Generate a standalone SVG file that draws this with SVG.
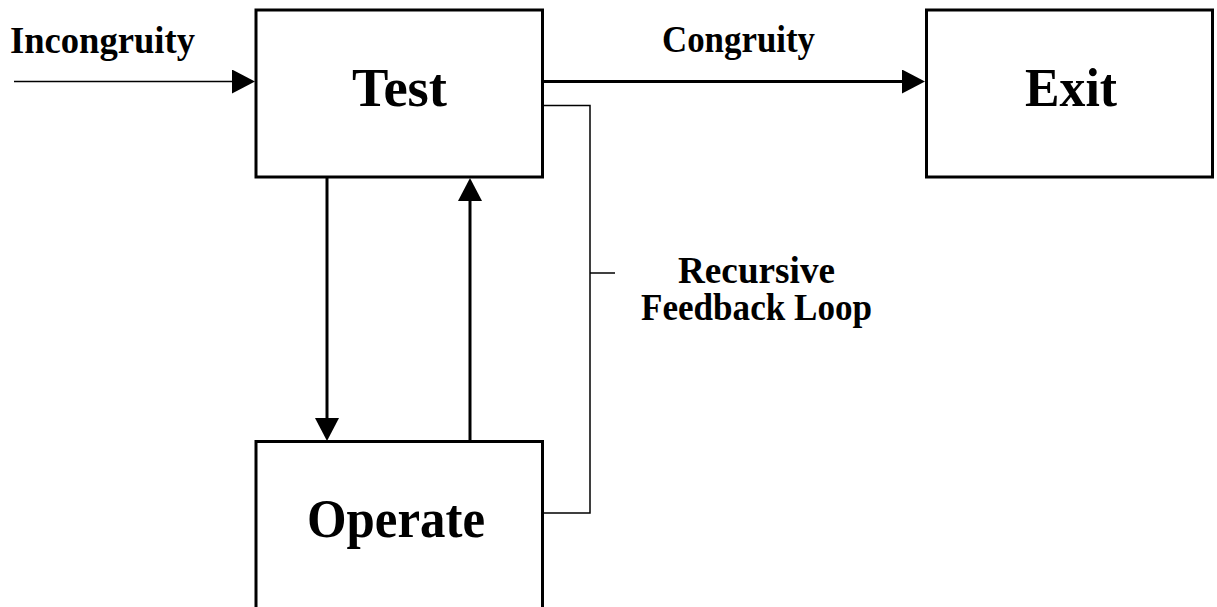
<svg xmlns="http://www.w3.org/2000/svg" width="1217" height="607" viewBox="0 0 1217 607">
  <defs>
    <!-- solid triangular arrowhead; tip sits 20px beyond the line end -->
    <marker id="head" markerUnits="userSpaceOnUse" markerWidth="23" markerHeight="24" refX="3" refY="12" orient="auto">
      <path d="M0,0 L23,12 L0,24 Z" fill="#000"/>
    </marker>
    <style>
      .box { fill: #fff; stroke: #000; stroke-width: 3; }
      .big { font-family: "Liberation Serif", "Times New Roman", serif; font-weight: bold; font-size: 54px; fill: #000; text-anchor: middle; }
      .lbl { font-family: "Liberation Serif", "Times New Roman", serif; font-weight: bold; font-size: 37px; fill: #000; }
      .thick { stroke: #000; stroke-width: 3; fill: none; }
      .thin { stroke: #000; stroke-width: 1.5; fill: none; }
    </style>
  </defs>
  <rect width="1217" height="607" fill="#fff"/>

  <g id="connectors">
    <!-- input into Test -->
    <line class="thin" x1="14" y1="81.5" x2="235" y2="81.5" marker-end="url(#head)"/>
    <!-- Test to Exit -->
    <line class="thick" x1="544" y1="81.5" x2="905" y2="81.5" marker-end="url(#head)"/>
    <!-- Test down to Operate -->
    <line class="thick" x1="327" y1="178" x2="327" y2="421" marker-end="url(#head)"/>
    <!-- Operate back up to Test -->
    <line class="thick" x1="470" y1="441" x2="470" y2="198" marker-end="url(#head)"/>
    <!-- feedback bracket with its pointer tick -->
    <polyline class="thin" points="543,105.5 590,105.5 590,513 543,513"/>
    <line class="thin" x1="590" y1="273" x2="615" y2="273"/>
  </g>

  <g id="label-incongruity">
    <text class="lbl" x="10" y="52.5" textLength="185" lengthAdjust="spacingAndGlyphs">Incongruity</text>
  </g>
  <g id="label-congruity">
    <text class="lbl" x="662" y="51.5" textLength="153" lengthAdjust="spacingAndGlyphs">Congruity</text>
  </g>
  <g id="label-feedback">
    <text class="lbl" x="678" y="283" textLength="157" lengthAdjust="spacingAndGlyphs">Recursive</text>
    <text class="lbl" x="641" y="320" textLength="231" lengthAdjust="spacingAndGlyphs">Feedback Loop</text>
  </g>

  <g id="node-test">
    <rect class="box" x="256" y="10" width="286.5" height="167"/>
    <text class="big" x="399.5" y="106" textLength="95" lengthAdjust="spacingAndGlyphs">Test</text>
  </g>
  <g id="node-exit">
    <rect class="box" x="926.5" y="10" width="286" height="167"/>
    <text class="big" x="1071" y="106" textLength="92" lengthAdjust="spacingAndGlyphs">Exit</text>
  </g>
  <g id="node-operate">
    <rect class="box" x="256" y="441.5" width="286.5" height="200"/>
    <text class="big" x="396" y="537" textLength="178" lengthAdjust="spacingAndGlyphs">Operate</text>
  </g>
</svg>
